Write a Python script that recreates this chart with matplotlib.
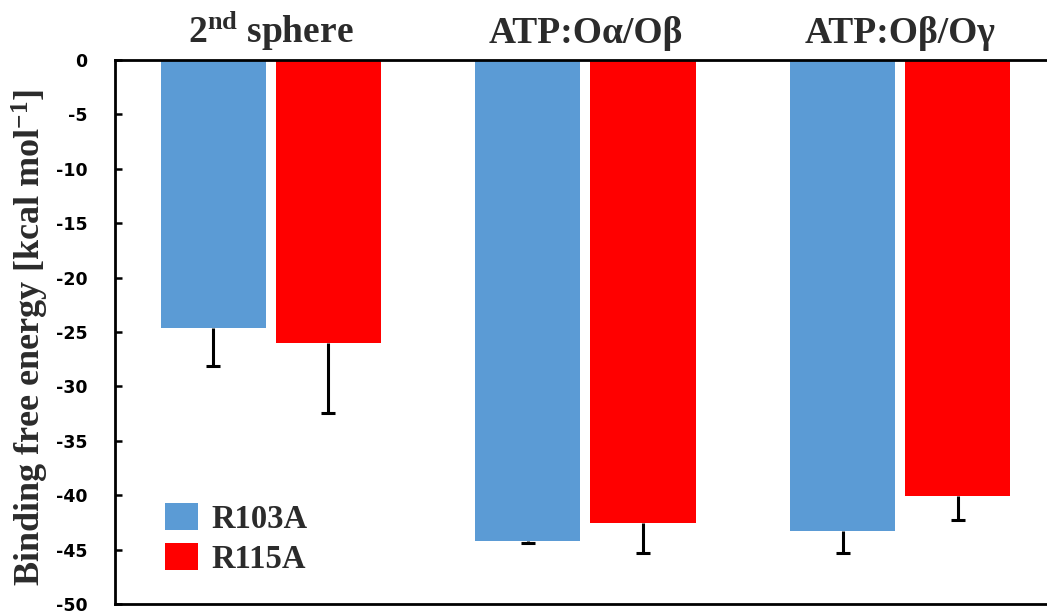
import matplotlib
matplotlib.use("Agg")
import matplotlib.pyplot as plt
import numpy as np

plt.rcParams['mathtext.fontset'] = 'custom'
plt.rcParams['mathtext.rm'] = 'Liberation Serif:bold'
plt.rcParams['mathtext.bf'] = 'Liberation Serif:bold'
plt.rcParams['mathtext.it'] = 'Liberation Serif:bold'

groups = ["2$^{\\mathbf{nd}}$ sphere", "ATP:O\u03b1/O\u03b2", "ATP:O\u03b2/O\u03b3"]
series_names = ["R103A", "R115A"]
r103a = [-24.6, -44.2, -43.3]
r103a_err = [3.5, 0.2, 2.0]
r115a = [-26.0, -42.6, -40.1]
r115a_err = [6.4, 2.7, 2.2]
yticks = [0, -5, -10, -15, -20, -25, -30, -35, -40, -45, -50]

colors = ["#5B9BD5", "#FF0000"]

W, H = 1047, 613
fig = plt.figure(figsize=(W / 100, H / 100), dpi=100)
ax = fig.add_axes([115 / W, (H - 604) / H, (W - 115) / W + 0.01, (604 - 60) / H])

x = np.arange(len(groups))
width = 0.334
off = 0.183
for vals, errs, c, name, sgn in [(r103a, r103a_err, colors[0], series_names[0], -1),
                                  (r115a, r115a_err, colors[1], series_names[1], 1)]:
    ax.bar(x + sgn * off, vals, width, color=c, label=name, zorder=2)
    eb = ax.errorbar(x + sgn * off, vals, yerr=[errs, [0] * len(errs)], fmt='none',
                     ecolor='black', elinewidth=2.2, capsize=5, capthick=2.2, zorder=3)
    caps = eb[1]
    if len(caps) > 1:
        caps[1].set_visible(False)

ax.set_ylim(-50, 0)
ax.set_xlim(-0.495, 2.5)
ax.set_yticks(yticks)
ax.set_yticklabels([str(t) for t in yticks], fontfamily='DejaVu Sans', fontweight='bold', fontsize=12.5)
ax.tick_params(axis='y', direction='in', length=5, width=1.8, pad=20)
ax.set_xticks([])
for s in ['top', 'bottom', 'left']:
    ax.spines[s].set_linewidth(2)
ax.spines['right'].set_visible(False)

for xi, g in zip(x, groups):
    ax.annotate(g, xy=(xi, 0), xycoords='data', xytext=(0, 12.5), textcoords='offset points',
                ha='center', va='baseline', fontfamily='Liberation Serif', fontweight='bold',
                fontsize=27, color='#2b2b2b', annotation_clip=False)

fig.text(30 / W, 1 - 337 / H, "Binding free energy [kcal mol$^{\\mathbf{-1}}$]", rotation=90,
         ha='center', va='center', fontfamily='Liberation Serif', fontweight='bold',
         fontsize=26, color='#2b2b2b')

leg = ax.legend(loc='upper left', bbox_to_anchor=(165 / W, 1 - 503 / H),
                bbox_transform=fig.transFigure, frameon=False, borderpad=0,
                prop={'family': 'Liberation Serif', 'weight': 'bold', 'size': 23.5},
                handlelength=1.0, handleheight=0.9, handletextpad=0.42, labelspacing=0.25,
                borderaxespad=0)
for t in leg.get_texts():
    t.set_color('#2b2b2b')

fig.savefig("out.png", dpi=100)
